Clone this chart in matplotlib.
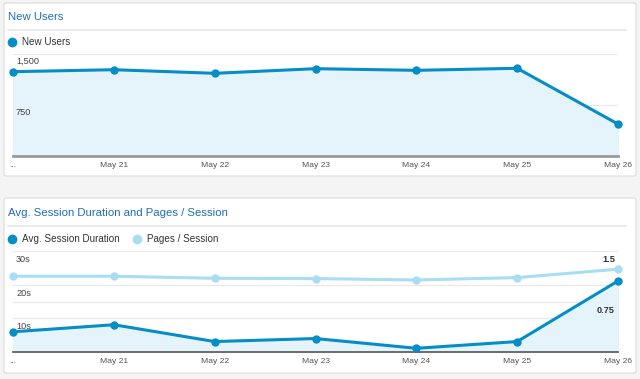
import matplotlib
matplotlib.use('Agg')
import matplotlib.pyplot as plt
import matplotlib.transforms as mtransforms
from matplotlib.patches import FancyBboxPatch
from matplotlib.lines import Line2D

plt.rcParams['font.family'] = ['Liberation Sans', 'DejaVu Sans']

W, H = 640, 379
DARK = '#058dc7'
LIGHT = '#a8ddf4'
FILL = '#e5f3fa'
TITLE = '#1f6eb5'

dates = ['...', 'May 21', 'May 22', 'May 23', 'May 24', 'May 25', 'May 26']
new_users = [1240, 1269, 1216, 1284, 1260, 1290, 470]
avg_session = [6.0, 8.1, 3.1, 4.0, 1.1, 3.1, 21.1]
pages_session = [1.125, 1.125, 1.095, 1.09, 1.07, 1.105, 1.23]


def fx(px):
    return px / W


def fy(py):
    return 1 - py / H


def panel(fig, top, bottom, title, title_y, sep_y):
    box = FancyBboxPatch((fx(4), fy(bottom)), fx(632), (bottom - top) / H,
                         boxstyle='round,pad=0,rounding_size=0.004',
                         transform=fig.transFigure, facecolor='white',
                         edgecolor='#dcdcdc', linewidth=0.8, zorder=-5)
    fig.patches.append(box)
    fig.text(fx(8), fy(title_y), title, color=TITLE, fontsize=8.2, va='center', ha='left')
    fig.add_artist(Line2D([fx(8), fx(626)], [fy(sep_y), fy(sep_y)], color='#e6e6e6', lw=1.2,
                          transform=fig.transFigure, zorder=-4))


def legend_item(fig, x, y, color, label):
    fig.add_artist(Line2D([fx(x)], [fy(y)], marker='o', markersize=6, color=color,
                          linestyle='none', transform=fig.transFigure))
    fig.text(fx(x + 10), fy(y), label, color='#333333', fontsize=7.1, va='center', ha='left')


def setup_axes(ax):
    ax.set_xlim(0, len(dates) - 1)
    ax.set_facecolor('none')
    for s in ['top', 'left', 'right']:
        ax.spines[s].set_visible(False)
    ax.set_yticks([])
    ax.set_xticks(range(len(dates)))
    ax.set_xticklabels(dates, fontsize=6.1, color='#555555')
    ax.tick_params(axis='x', length=0, pad=4)


fig = plt.figure(figsize=(W / 100, H / 100), dpi=100)
fig.patch.set_facecolor('#f4f4f4')

# panel 1
panel(fig, 3, 176, 'New Users', 17, 30)
legend_item(fig, 12, 42, DARK, 'New Users')

ax1 = fig.add_axes([fx(13), fy(156), fx(605), 102 / H])
setup_axes(ax1)
ax1.set_ylim(0, 1500)
x = list(range(len(dates)))
for g in [750, 1500]:
    ax1.axhline(g, color='#e9e9e9', lw=0.9, zorder=0)
ax1.fill_between(x, new_users, 0, color=FILL, zorder=1)
ax1.plot(x, new_users, color=DARK, lw=2.2, marker='o', markersize=5, clip_on=False, zorder=3)
ax1.spines['bottom'].set_color('#9a9a9a')
ax1.spines['bottom'].set_linewidth(2)
for lab, v in [('1,500', 1500), ('750', 750)]:
    ax1.text(0.005, v - 45, lab, transform=ax1.get_yaxis_transform(), fontsize=6.6,
             color='#444444', va='top', ha='left', zorder=4)

# panel 2
panel(fig, 198, 373, 'Avg. Session Duration and Pages / Session', 213, 226)
legend_item(fig, 12, 239, DARK, 'Avg. Session Duration')
legend_item(fig, 137, 239, LIGHT, 'Pages / Session')

ax2 = fig.add_axes([fx(13), fy(352), fx(605), 101 / H])
setup_axes(ax2)
ax2.set_ylim(0, 30)
ax3 = ax2.twinx()
ax3.set_ylim(0, 1.5)
ax3.set_yticks([])
for s in ['top', 'left', 'right', 'bottom']:
    ax3.spines[s].set_visible(False)
for g in [10, 20, 30]:
    ax2.axhline(g, color='#e9e9e9', lw=0.9, zorder=0)
ax3.axhline(0.75, color='#e9e9e9', lw=0.9, zorder=0)
ax2.fill_between(x, avg_session, 0, color=FILL, zorder=1)
ax2.spines['bottom'].set_color('#555555')
ax2.spines['bottom'].set_linewidth(1.2)
ax3.plot(x, pages_session, color=LIGHT, lw=2.2, marker='o', markersize=5, clip_on=False, zorder=2)
ax2.set_zorder(ax3.get_zorder() + 1)
ax2.plot(x, avg_session, color=DARK, lw=2.2, marker='o', markersize=5, clip_on=False, zorder=3)
for lab, v in [('30s', 30), ('20s', 20), ('10s', 10)]:
    ax2.text(0.005, v - 1.2, lab, transform=ax2.get_yaxis_transform(), fontsize=6.6,
             color='#444444', va='top', ha='left', zorder=4)
right_tr = mtransforms.blended_transform_factory(ax2.transAxes, ax3.transData)
for lab, v in [('1.5', 1.5), ('0.75', 0.75)]:
    ax2.text(0.995, v - 0.06, lab, transform=right_tr, fontsize=6.6,
             color='#333333', va='top', ha='right', fontweight='bold', zorder=4)

fig.savefig('out.png', dpi=100, facecolor=fig.get_facecolor())
